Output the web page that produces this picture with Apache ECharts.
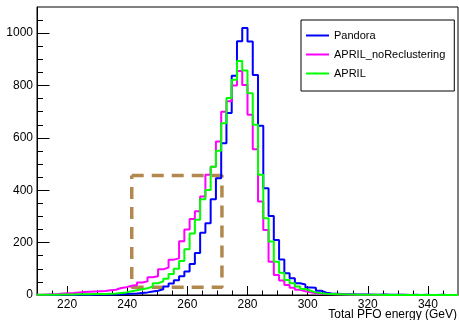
<!DOCTYPE html>
<html><head><meta charset="utf-8">
<script src="https://cdn.jsdelivr.net/npm/echarts@6/dist/echarts.min.js"></script>
<style>html,body{margin:0;padding:0;background:#fff}#c{width:459px;height:320px}</style>
</head><body><div id="c"></div>
<script>
// Histogram binning (80 bins from 210 to 350 GeV)
const binStart = 210;
const binWidth = 1.75;

// Bin contents
const pandora = [
  0,0,1,0,1,1,0,1,1,1,
  1,2,2,2,3,3,4,5,6,8,
  10,13,16,22,32,44,56,72,90,118,
  160,238,274,366,446,580,695,837,969,1020,
  968,840,646,408,302,210,136,83,64,45,
  40,29,28,16,9,6,5,4,3,3,
  2,2,2,1,1,2,1,1,1,1,
  0,1,0,1,0,0,1,0,0,0
];
const aprilNoReclustering = [
  1,2,3,4,6,7,8,10,11,12,
  13,14,15,18,20,27,30,35,38,48,
  52,68,72,98,105,135,140,205,250,290,
  320,376,459,490,586,700,740,800,856,802,
  688,557,357,248,127,76,55,38,28,20,
  14,10,7,5,4,3,3,2,2,1,
  1,1,1,1,0,1,0,0,1,0,
  0,0,0,0,0,0,0,0,0,0
];
const april = [
  1,1,1,1,2,2,2,3,3,3,
  4,4,4,5,6,8,10,14,18,22,
  26,32,45,52,62,80,100,130,175,235,
  287,366,401,490,551,656,752,822,894,857,
  771,650,459,293,204,127,85,57,45,32,
  23,16,10,7,5,4,3,3,2,2,
  1,1,1,1,1,0,1,0,0,0,
  0,0,0,0,0,0,0,0,0,0
];

// Dashed box (x in GeV, y in entries)
const boxX = [241.5, 271.5];
const boxY = [30, 456];

// Tick values
const xMajorTicks = [220,240,260,280,300,320,340];
const xMinorTicks = [215,225,230,235,245,250,255,265,270,275,285,290,295,305,310,315,325,330,335,345];
const yMajorTicks = [0,200,400,600,800,1000];
const yMinorTicks = [50,100,150,250,300,350,450,500,550,650,700,750,850,900,950,1050];

const xTitle = 'Total PFO energy (GeV)';
const seriesNames = ['Pandora','APRIL_noReclustering','APRIL'];
const seriesColors = ['#0000ff','#ff00ff','#00ff00'];

function toSteps(vals){
  const pts = vals.map((v,i)=>[binStart + i*binWidth, v]);
  pts.push([binStart + vals.length*binWidth, vals[vals.length-1]]);
  return pts;
}
const boxPts = [[boxX[0],boxY[1]],[boxX[1],boxY[1]],[boxX[1],boxY[0]],[boxX[0],boxY[0]],[boxX[0],boxY[1]]];

const FONT = 'Liberation Sans, Arial, Helvetica, sans-serif';
const chart = echarts.init(document.getElementById('c'), null, {renderer:'canvas'});
const xMin = 210, xMax = 350, yMin = 0, yMax = 1100;

chart.setOption({
  animation: false,
  backgroundColor: '#fff',
  grid: {left: 37, right: 1, top: 7, bottom: 25, containLabel: false, outerBoundsMode: 'none',
         show: true, borderColor: '#000', borderWidth: 1, backgroundColor: 'transparent'},
  legend: {
    data: seriesNames,
    orient: 'vertical',
    left: 301, top: 20,
    padding: [10, 9, 12, 4],
    itemGap: 8,
    itemWidth: 23, itemHeight: 10,
    backgroundColor: '#fff',
    borderColor: '#000', borderWidth: 1,
    itemStyle: {opacity: 0},
    textStyle: {fontFamily: FONT, fontSize: 11, color: '#000', lineHeight: 10}
  },
  graphic: [{
    type: 'text', right: 2, top: 309,
    style: {text: xTitle, font: '12px ' + FONT, fill: '#000'}
  }],
  xAxis: [{
    type: 'value', min: xMin, max: xMax,
    axisLine: {show: true, lineStyle: {color: '#000', width: 1}},
    axisTick: {show: true, inside: true, length: 9, customValues: xMajorTicks, lineStyle: {color: '#000'}},
    axisLabel: {show: true, customValues: xMajorTicks, margin: 4, fontFamily: FONT, fontSize: 12, color: '#000', formatter: v => String(v)},
    splitLine: {show: false}
  },{
    type: 'value', min: xMin, max: xMax, position: 'bottom',
    axisLine: {show: false},
    axisTick: {show: true, inside: true, length: 4.5, customValues: xMinorTicks, lineStyle: {color: '#000'}},
    axisLabel: {show: false}, splitLine: {show: false}
  }],
  yAxis: [{
    type: 'value', min: yMin, max: yMax,
    axisLine: {show: true, lineStyle: {color: '#000', width: 1}},
    axisTick: {show: true, inside: true, length: 12.5, customValues: yMajorTicks, lineStyle: {color: '#000'}},
    axisLabel: {show: true, customValues: yMajorTicks, margin: 4, fontFamily: FONT, fontSize: 12, color: '#000', formatter: v => String(v)},
    splitLine: {show: false}
  },{
    type: 'value', min: yMin, max: yMax, position: 'left',
    axisLine: {show: false},
    axisTick: {show: true, inside: true, length: 6, customValues: yMinorTicks, lineStyle: {color: '#000'}},
    axisLabel: {show: false}, splitLine: {show: false}
  }],
  series: [
    {
      name: 'box', type: 'line', data: boxPts, symbol: 'none', silent: true,
      lineStyle: {color: '#b3884f', width: 3.5, type: [12, 8]}, z: 1
    }
  ].concat([pandora, aprilNoReclustering, april].map((vals, i) => ({
    name: seriesNames[i], type: 'line', step: 'end', symbol: 'none',
    data: toSteps(vals),
    lineStyle: {color: seriesColors[i], width: 2},
    itemStyle: {color: seriesColors[i]},
    z: 2 + i
  })))
});
</script></body></html>
